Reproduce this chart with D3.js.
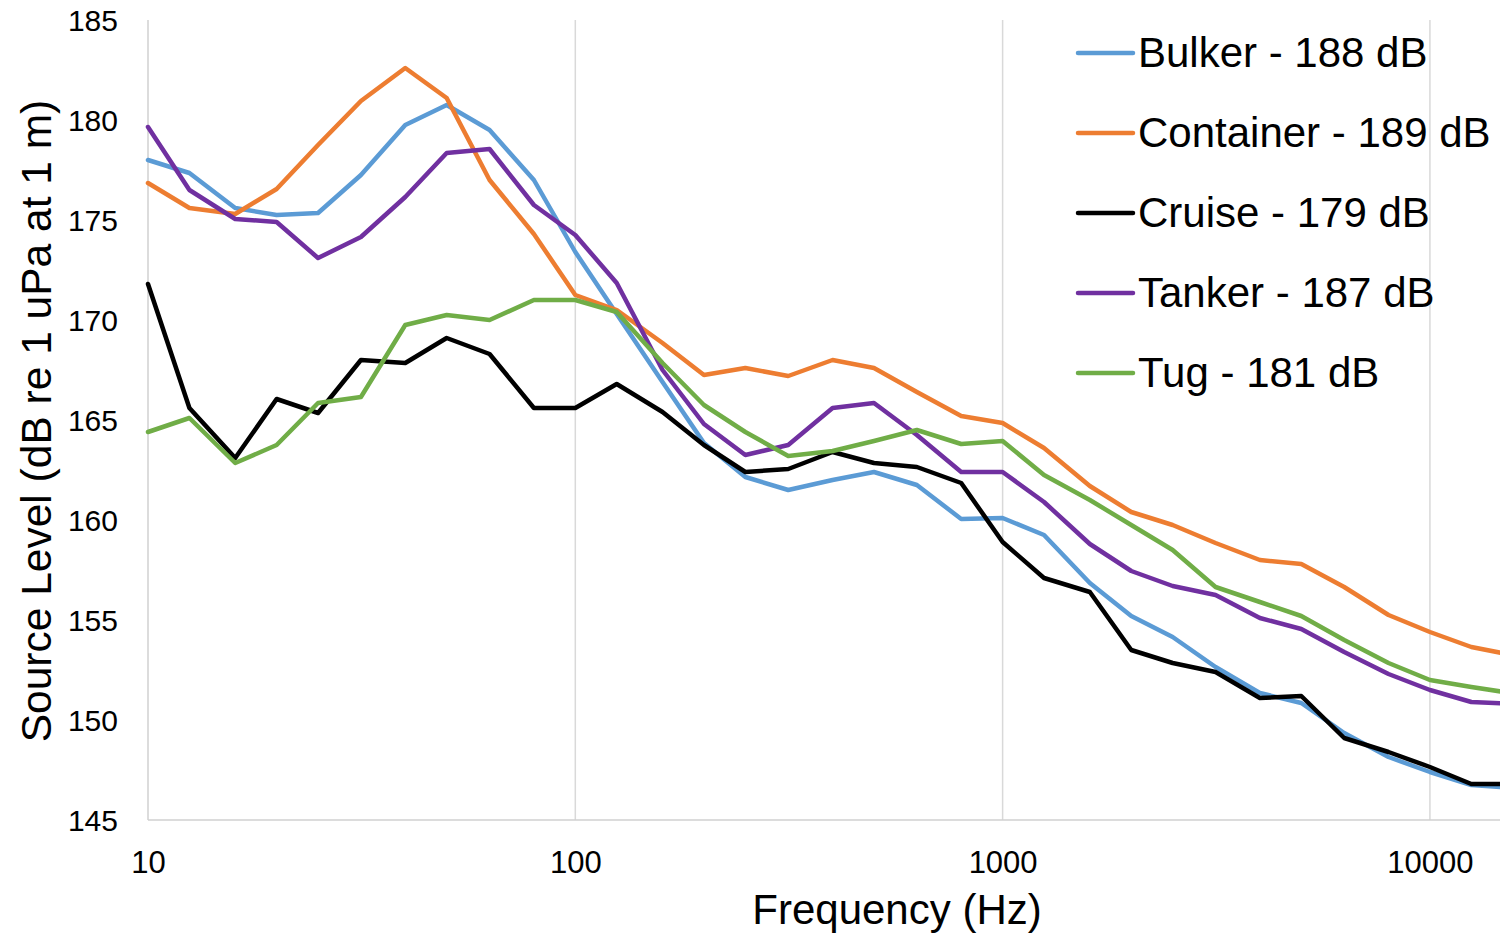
<!DOCTYPE html>
<html lang="en">
<head>
    <meta charset="UTF-8">
    <title>Ship Source Levels</title>
    <script src="https://d3js.org/d3.v7.min.js"></script>
    <style>
        body { margin: 0; background: #fff; }
        svg text { font-family: "Liberation Sans", Arial, sans-serif; fill: #000; }
    </style>
</head>
<body>
    <div id="chart"></div>

    <script>
        // third-octave band centres (Hz)
        const freqs = [10, 12.5, 16, 20, 25, 31.5, 40, 50, 63, 80, 100, 125, 160, 200, 250, 315,
            400, 500, 630, 800, 1000, 1250, 1600, 2000, 2500, 3150, 4000, 5000, 6300, 8000,
            10000, 12500, 16000];

        const bulker = [178.0, 177.35, 175.6, 175.25, 175.35, 177.25, 179.75, 180.75, 179.5, 177.0,
            173.4, 170.3, 166.9, 163.85, 162.15, 161.5, 162.0, 162.4, 161.75, 160.05,
            160.1, 159.25, 156.85, 155.2, 154.15, 152.65, 151.35, 150.85, 149.35, 148.15,
            147.4, 146.75, 146.6];
        const container = [176.85, 175.6, 175.3, 176.55, 178.75, 180.95, 182.6, 181.1, 177.0, 174.3,
            171.25, 170.5, 168.85, 167.25, 167.6, 167.2, 168.0, 167.6, 166.4, 165.2,
            164.85, 163.6, 161.7, 160.4, 159.75, 158.85, 158.0, 157.8, 156.65, 155.25,
            154.4, 153.65, 153.2];
        const cruise = [171.8, 165.6, 163.1, 166.05, 165.35, 168.0, 167.85, 169.1, 168.3, 165.6,
            165.6, 166.8, 165.4, 163.75, 162.4, 162.55, 163.4, 162.85, 162.65, 161.85,
            158.9, 157.1, 156.4, 153.5, 152.85, 152.4, 151.1, 151.2, 149.1, 148.4,
            147.65, 146.8, 146.8];
        const tanker = [179.65, 176.5, 175.05, 174.9, 173.1, 174.15, 176.15, 178.35, 178.55, 175.75,
            174.25, 171.85, 167.5, 164.8, 163.25, 163.75, 165.6, 165.85, 164.25, 162.4,
            162.4, 160.9, 158.8, 157.45, 156.7, 156.25, 155.1, 154.55, 153.4, 152.3,
            151.5, 150.9, 150.8];
        const tug = [164.4, 165.1, 162.85, 163.75, 165.85, 166.15, 169.75, 170.25, 170.0, 171.0,
            171.0, 170.4, 167.85, 165.75, 164.4, 163.2, 163.45, 163.95, 164.5, 163.8,
            163.95, 162.25, 161.0, 159.75, 158.5, 156.65, 155.9, 155.2, 154.0, 152.85,
            152.0, 151.65, 151.3];

        const seriesNames = ["Bulker - 188 dB", "Container - 189 dB", "Cruise - 179 dB",
            "Tanker - 187 dB", "Tug - 181 dB"];
        const seriesValues = [bulker, container, cruise, tanker, tug];
        const colors = ["#5B9BD5", "#ED7D31", "#000000", "#7030A0", "#70AD47"];

        const xTicks = [10, 100, 1000, 10000];
        const yTicks = [145, 150, 155, 160, 165, 170, 175, 180, 185];

        const W = 1501, H = 935;
        const plot = {left: 148, right: 1500, top: 20, bottom: 820};

        const svg = d3.select("#chart")
            .append("svg")
            .attr("width", W)
            .attr("height", H);

        const x = d3.scaleLog()
            .domain([10, 14588])
            .range([plot.left, plot.right]);

        const y = d3.scaleLinear()
            .domain([145, 185])
            .range([plot.bottom, plot.top]);

        // vertical gridlines
        svg.append("g")
            .selectAll("line")
            .data(xTicks.slice(1))
            .join("line")
            .attr("x1", d => x(d)).attr("x2", d => x(d))
            .attr("y1", plot.top).attr("y2", plot.bottom)
            .attr("stroke", "#d9d9d9")
            .attr("stroke-width", 1.5);

        // axis lines
        svg.append("line")
            .attr("x1", plot.left).attr("x2", plot.left)
            .attr("y1", plot.top).attr("y2", plot.bottom)
            .attr("stroke", "#d0d0d0").attr("stroke-width", 1.5);
        svg.append("line")
            .attr("x1", plot.left).attr("x2", plot.right)
            .attr("y1", plot.bottom).attr("y2", plot.bottom)
            .attr("stroke", "#d0d0d0").attr("stroke-width", 1.5);

        // x axis labels
        const xAxis = svg.append("g")
            .attr("transform", `translate(0, ${plot.bottom})`)
            .call(d3.axisBottom(x).tickValues(xTicks).tickFormat(d3.format("d")).tickSize(0).tickPadding(53));
        xAxis.select(".domain").remove();
        xAxis.selectAll("text")
            .style("font-size", "31px")
            .attr("dy", "0");

        // y axis labels
        const yAxis = svg.append("g")
            .attr("transform", `translate(${plot.left}, 0)`)
            .call(d3.axisLeft(y).tickValues(yTicks).tickSize(0).tickPadding(30));
        yAxis.select(".domain").remove();
        yAxis.selectAll("text")
            .style("font-size", "30px")
            .attr("dy", "0.36em");

        // axis titles
        svg.append("text")
            .attr("x", 897)
            .attr("y", 924)
            .attr("text-anchor", "middle")
            .style("font-size", "42px")
            .text("Frequency (Hz)");

        svg.append("text")
            .attr("transform", "translate(51, 421) rotate(-90)")
            .attr("text-anchor", "middle")
            .style("font-size", "42.5px")
            .text("Source Level (dB re 1 uPa at 1 m)");

        // clip to plot area
        svg.append("clipPath")
            .attr("id", "clip")
            .append("rect")
            .attr("x", plot.left - 5).attr("y", plot.top - 10)
            .attr("width", plot.right - plot.left + 5)
            .attr("height", plot.bottom - plot.top + 10);

        const line = d3.line()
            .x((d, i) => x(freqs[i]))
            .y(d => y(d));

        svg.append("g")
            .attr("clip-path", "url(#clip)")
            .selectAll("path")
            .data(seriesValues)
            .join("path")
            .attr("d", d => line(d))
            .attr("fill", "none")
            .attr("stroke", (d, i) => colors[i])
            .attr("stroke-width", 4.5)
            .attr("stroke-linejoin", "round")
            .attr("stroke-linecap", "round");

        // legend
        const legend = svg.append("g")
            .selectAll("g")
            .data(seriesNames)
            .join("g")
            .attr("transform", (d, i) => `translate(1078, ${53 + i * 80})`);

        legend.append("line")
            .attr("x1", 0).attr("x2", 55)
            .attr("stroke", (d, i) => colors[i])
            .attr("stroke-width", 4.5)
            .attr("stroke-linecap", "round");

        legend.append("text")
            .attr("x", 60)
            .attr("y", 14)
            .style("font-size", "42px")
            .text(d => d);
    </script>
</body>
</html>
